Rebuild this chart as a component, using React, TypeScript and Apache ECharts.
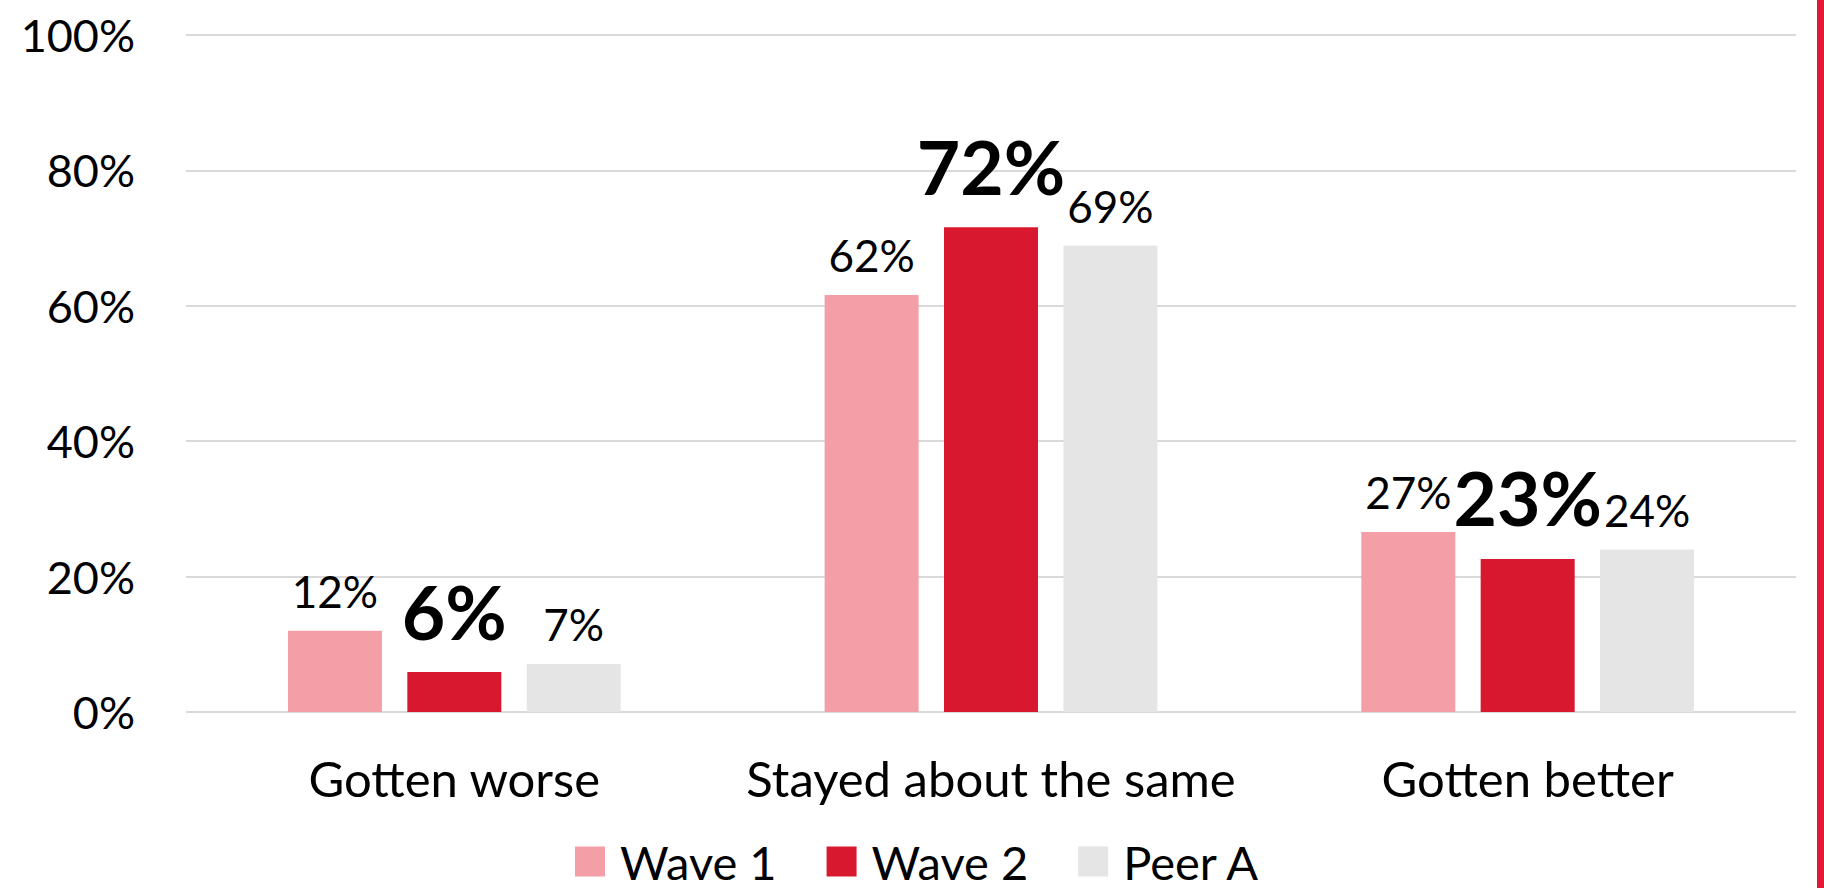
import React, { useEffect, useRef } from "react";
import * as echarts from "echarts";

const categories = ["Gotten worse", "Stayed about the same", "Gotten better"];
const seriesNames = ["Wave 1", "Wave 2", "Peer A"];
const wave1 = [12.0, 61.6, 26.6];
const wave2 = [5.9, 71.6, 22.6];
const peerA = [7.1, 68.9, 24.0];
const colors = ["#F49FA7", "#D7182F", "#E5E5E5"];
const yTicks = { min: 0, max: 100, interval: 20 };

const FONT = "Lato";

export default function App() {
  const ref = useRef<HTMLDivElement>(null);
  useEffect(() => {
    document.body.style.margin = "0";
    const chart = echarts.init(ref.current!, null, { renderer: "svg" });
    const regularLabel = {
      show: true,
      position: "top",
      distance: 18,
      fontFamily: FONT,
      fontSize: 44,
      color: "#000",
      formatter: (p: any) => Math.round(p.value) + "%",
    };
    const boldLabel = {
      ...regularLabel,
      fontSize: 75,
      fontWeight: "bold",
      distance: 24,
    };
    const allData = [wave1, wave2, peerA];
    chart.setOption({
      animation: false,
      backgroundColor: "#fff",
      grid: { left: 186, right: 28, top: 35, bottom: 176, containLabel: false },
      legend: {
        data: seriesNames,
        left: 575,
        top: 838,
        padding: 0,
        itemWidth: 30,
        itemHeight: 30,
        itemGap: 50,
        icon: "rect",
        textStyle: {
          fontFamily: FONT,
          fontSize: 47,
          color: "#000",
          padding: [0, 0, 0, 10],
        },
      },
      xAxis: {
        type: "category",
        data: categories,
        axisLine: { show: false },
        axisTick: { show: false },
        axisLabel: {
          interval: 0,
          fontFamily: FONT,
          fontSize: 49,
          color: "#000",
          margin: 41,
        },
      },
      yAxis: {
        type: "value",
        min: yTicks.min,
        max: yTicks.max,
        interval: yTicks.interval,
        axisLine: { show: false },
        axisTick: { show: false },
        splitLine: { lineStyle: { color: "#D9D9D9", width: 2 } },
        axisLabel: {
          fontFamily: FONT,
          fontSize: 45,
          color: "#000",
          margin: 51,
          formatter: "{value}%",
        },
      },
      series: seriesNames.map((name, i) => ({
        name,
        type: "bar",
        data: allData[i],
        barWidth: 94,
        barGap: "27%",
        itemStyle: { color: colors[i] },
        label: i === 1 ? boldLabel : regularLabel,
      })),
      graphic: [
        {
          type: "rect",
          shape: { x: 1817, y: 0, width: 7, height: 888 },
          style: { fill: "#E31837" },
        },
      ],
    });
    return () => chart.dispose();
  }, []);
  return <div ref={ref} style={{ width: 1824, height: 888 }} />;
}
